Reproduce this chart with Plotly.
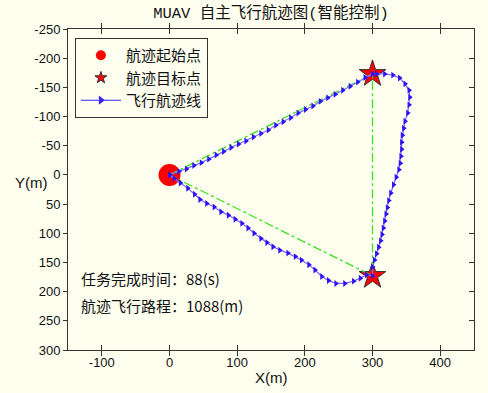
import plotly.graph_objects as go

# ---- data ----
start_x = [0]
start_y = [0]
target_x = [300, 300]
target_y = [-173, 173]
plan_x = [0, 300, 300, 0]
plan_y = [0, -173, 173, 0]

path_x = [0, 14, 25, 36, 47, 58, 69, 80, 91, 102, 113, 124, 135, 146, 157, 168, 179, 190, 201, 212,
          223, 234, 245, 256, 267, 278, 289, 300,
          306, 318, 330, 340, 348, 354, 355, 354, 352, 348, 346, 344, 343, 343, 342, 341, 339, 335,
          331, 327, 324, 322, 320, 318, 316, 314, 312, 309, 306, 303, 300, 300,
          291, 282, 272, 259, 246, 235, 225, 215, 206, 195, 186, 175, 163, 153, 144, 135, 125, 116,
          107, 97, 87, 76, 66, 55, 45, 37, 27, 16, 7, 0]
path_y = [0, -6, -10, -16, -21, -27, -34, -40, -47, -53, -58, -65, -71, -77, -85, -91, -98, -106, -112, -118,
          -126, -132, -138, -145, -152, -159, -167, -173,
          -173, -173, -171, -166, -156, -145, -133, -120, -106, -92, -80, -68, -56, -44, -32, -20, -9, 4,
          17, 31, 44, 56, 67, 79, 91, 102, 113, 124, 135, 146, 158, 173,
          171, 177, 182, 186, 186, 181, 174, 163, 154, 146, 140, 134, 129, 123, 116, 109, 100, 91,
          83, 76, 69, 63, 55, 49, 42, 33, 23, 14, 6, 0]

x_ticks = [-100, 0, 100, 200, 300, 400]
x_tick_labels = ["-100", "0", "100", "200", "300", "400"]
y_ticks = [-250, -200, -150, -100, -50, 0, 50, 100, 150, 200, 250, 300]
y_tick_labels = ["-250", "-200", "-150", "-100", "-50", "0", "50", "100", "150", "200", "250", "300"]

title_text = "MUAV 自主飞行航迹图(智能控制)"
legend_names = ["航迹起始点", "航迹目标点", "飞行航迹线"]
info_lines = ["任务完成时间：88(s)", "航迹飞行路程：1088(m)"]
info_y = [177, 223]

BG = "#FFFFF0"
CJK = "Noto Sans CJK SC"
LAT = "Liberation Sans"

fig = go.Figure()

# actual marks
fig.add_trace(go.Scatter(x=start_x, y=start_y, mode="markers", showlegend=False,
                         marker=dict(symbol="circle", size=22, color="#FF0000", line=dict(width=0))))
fig.add_trace(go.Scatter(x=target_x, y=target_y, mode="markers", showlegend=False,
                         marker=dict(symbol="star", size=20, color="#FF0000", line=dict(width=1, color="#333333"))))
fig.add_trace(go.Scatter(x=plan_x, y=plan_y, mode="lines", showlegend=False,
                         line=dict(color="#3CE01E", width=1.3, dash="dashdot")))
fig.add_trace(go.Scatter(x=path_x, y=path_y, mode="lines+markers", showlegend=False,
                         line=dict(color="#8070FF", width=1.3),
                         marker=dict(symbol="triangle-right", size=6, color="#2E14F5", line=dict(width=0))))

# legend-only entries
fig.add_trace(go.Scatter(x=[None], y=[None], mode="markers", name=legend_names[0],
                         marker=dict(symbol="circle", size=10, color="#FF0000")))
fig.add_trace(go.Scatter(x=[None], y=[None], mode="markers", name=legend_names[1],
                         marker=dict(symbol="star", size=9, color="#FF0000", line=dict(width=1, color="#333333"))))
fig.add_trace(go.Scatter(x=[None], y=[None], mode="lines+markers", name=legend_names[2],
                         line=dict(color="#3A22FF", width=1.2),
                         marker=dict(symbol="triangle-right", size=8, color="#3A22FF")))
# right-side tick axis
fig.add_trace(go.Scatter(x=[None], y=[None], yaxis="y2", showlegend=False, hoverinfo="skip"))

for txt, yy in zip(info_lines, info_y):
    fig.add_annotation(x=-134, y=yy, xref="x", yref="y", text=txt, showarrow=False,
                       xanchor="left", yanchor="middle", font=dict(family=CJK, size=15, color="#111111"))

fig.add_annotation(x=0.5, y=-0.087, xref="paper", yref="paper", text="X(m)", showarrow=False,
                   xanchor="center", yanchor="middle", font=dict(family=LAT, size=15, color="#111111"))
fig.add_annotation(x=-0.091, y=0.523, xref="paper", yref="paper", text="Y(m)", showarrow=False,
                   xanchor="center", yanchor="middle", font=dict(family=LAT, size=15, color="#111111"))

fig.update_layout(
    width=488, height=393,
    margin=dict(l=68, r=14, t=29, b=43),
    paper_bgcolor=BG, plot_bgcolor=BG,
    title=dict(text=title_text, x=0.5, xref="paper", y=0.968, yref="container",
               xanchor="center", yanchor="middle",
               font=dict(family="Liberation Mono, " + CJK, size=15.5, color="#111111")),
    xaxis=dict(range=[-150, 450], tickvals=x_ticks, ticktext=x_tick_labels,
               ticks="inside", ticklen=5, tickcolor="#333333",
               showline=True, linecolor="#333333", linewidth=1, mirror="allticks",
               showgrid=False, zeroline=False,
               tickfont=dict(family=LAT, size=13, color="#111111")),
    yaxis=dict(range=[300, -250], tickvals=y_ticks, ticktext=y_tick_labels,
               ticks="outside", ticklen=4, tickcolor="#333333",
               showline=True, linecolor="#333333", linewidth=1, mirror=True,
               showgrid=False, zeroline=False,
               tickfont=dict(family=LAT, size=13, color="#111111")),
    yaxis2=dict(range=[300, -250], overlaying="y", side="right", tickvals=y_ticks, ticks="inside",
                ticklen=5, tickcolor="#333333", showticklabels=False, showline=False,
                showgrid=False, zeroline=False),
    legend=dict(x=0.017, y=0.972, xanchor="left", yanchor="top",
                bgcolor=BG, bordercolor="#333333", borderwidth=1,
                font=dict(family=CJK, size=15, color="#111111"),
                itemwidth=40, tracegroupgap=0),
    showlegend=True,
)

fig.write_html("out.html", config={"displayModeBar": False},
               post_script="document.body.style.margin='0';document.body.style.background='#FFFFF0';")
